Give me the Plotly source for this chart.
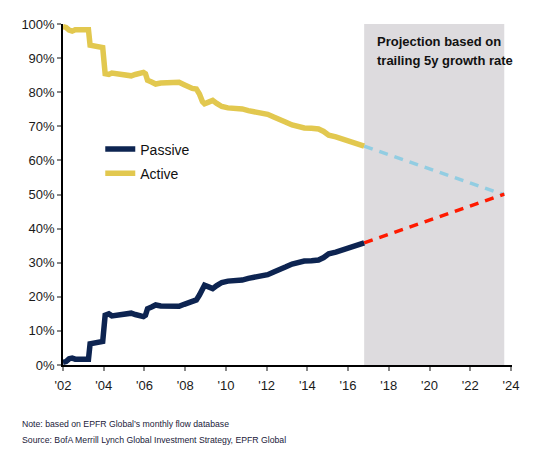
import plotly.graph_objects as go

years = [2002.00, 2002.15, 2002.30, 2002.45, 2002.60, 2002.80, 2003.00, 2003.25, 2003.33, 2003.50,
         2003.75, 2003.95, 2004.07, 2004.25, 2004.40, 2004.60, 2004.85, 2005.10, 2005.35, 2005.55,
         2005.75, 2005.95, 2006.05, 2006.15, 2006.35, 2006.55, 2006.80, 2007.10, 2007.40, 2007.70,
         2007.95, 2008.15, 2008.35, 2008.55, 2008.70, 2008.85, 2008.95, 2009.15, 2009.35, 2009.55,
         2009.80, 2010.10, 2010.40, 2010.80, 2011.10, 2011.45, 2011.80, 2012.05, 2012.35, 2012.65,
         2012.95, 2013.25, 2013.55, 2013.85, 2014.20, 2014.55, 2014.80, 2015.05, 2015.40, 2015.70,
         2016.00, 2016.30, 2016.55, 2016.79]

passive = [0.8, 1.0, 1.8, 2.0, 1.7, 1.6, 1.8, 1.7, 6.2, 6.4,
           6.6, 6.9, 14.6, 15.0, 14.4, 14.6, 14.9, 15.0, 15.2, 14.8,
           14.4, 14.2, 14.6, 16.5, 17.0, 17.6, 17.3, 17.3, 17.3, 17.2,
           17.8, 18.3, 18.9, 19.1, 20.5, 22.8, 23.4, 22.9, 22.4, 23.3,
           24.2, 24.6, 24.7, 24.9, 25.4, 25.8, 26.2, 26.5, 27.3, 27.9,
           28.8, 29.6, 30.1, 30.5, 30.6, 30.8, 31.5, 32.6, 33.1, 33.7,
           34.6, 35.1, 35.6, 35.8]

active = [99.2, 99.0, 98.2, 97.9, 98.3, 98.4, 98.3, 98.3, 93.8, 93.7,
          93.5, 93.1, 85.4, 85.2, 85.6, 85.4, 85.1, 85.0, 84.8, 85.2,
          85.6, 85.8, 85.4, 83.5, 83.0, 82.4, 82.7, 82.8, 82.7, 82.9,
          82.2, 81.6, 81.1, 80.9, 79.5, 77.2, 76.6, 77.1, 77.6, 76.7,
          75.8, 75.4, 75.3, 75.1, 74.6, 74.2, 73.8, 73.5, 72.7, 72.1,
          71.2, 70.4, 69.9, 69.5, 69.4, 69.2, 68.5, 67.4, 66.9, 66.3,
          65.4, 64.9, 64.4, 64.2]

proj_years = [2016.79, 2023.67]
passive_proj = [35.8, 50.1]
active_proj = [64.2, 49.9]

tick_years = [2002, 2004, 2006, 2008, 2010, 2012, 2014, 2016, 2018, 2020, 2022, 2024]
tick_labels = ["'02", "'04", "'06", "'08", "'10", "'12", "'14", "'16", "'18", "'20", "'22", "'24"]
y_ticks = [0, 10, 20, 30, 40, 50, 60, 70, 80, 90, 100]
y_labels = [f"{v}%" for v in y_ticks]

NAVY = "#0d2451"
GOLD = "#e2c84f"

fig = go.Figure()
fig.add_trace(go.Scatter(x=proj_years, y=active_proj, mode="lines", showlegend=False,
                         line=dict(color="#92cde2", width=3.5, dash="9px,7px")))
fig.add_trace(go.Scatter(x=proj_years, y=passive_proj, mode="lines", showlegend=False,
                         line=dict(color="#ff1a00", width=3.5, dash="9px,7px")))
fig.add_trace(go.Scatter(x=years, y=passive, mode="lines", name="Passive", legendgroup="p",
                         line=dict(color=NAVY, width=5.5)))
fig.add_trace(go.Scatter(x=years, y=active, mode="lines", name="Active", legendgroup="a",
                         line=dict(color=GOLD, width=5.5)))

fig.add_shape(type="rect", xref="x", yref="y", x0=proj_years[0], x1=proj_years[1], y0=0, y1=100,
              fillcolor="#dddbde", line=dict(width=0), layer="below")

fig.add_annotation(x=proj_years[0], y=1, xref="x", yref="paper", xshift=11, yshift=-8,
                   text="<b>Projection based on</b>", showarrow=False,
                   xanchor="left", yanchor="top", font=dict(size=13, color="#111"))
fig.add_annotation(x=proj_years[0], y=1, xref="x", yref="paper", xshift=11, yshift=-27,
                   text="<b>trailing 5y growth rate</b>", showarrow=False,
                   xanchor="left", yanchor="top", font=dict(size=13, color="#111"))

foot_font = dict(family="Liberation Sans, Arial, sans-serif", size=8.7, color="#1a1a3a")
fig.add_annotation(x=0, y=0, xref="paper", yref="paper", xanchor="left", yanchor="middle",
                   xshift=-43, yshift=-59, showarrow=False,
                   text="Note: based on EPFR Global\u2019s monthly flow database", font=foot_font)
fig.add_annotation(x=0, y=0, xref="paper", yref="paper", xanchor="left", yanchor="middle",
                   xshift=-43, yshift=-75, showarrow=False,
                   text="Source: BofA Merrill Lynch Global Investment Strategy, EPFR Global", font=foot_font)

fig.update_layout(
    width=528, height=445,
    margin=dict(l=55, r=24, t=16, b=88),
    plot_bgcolor="white", paper_bgcolor="white",
    font=dict(family="Liberation Sans, Arial, sans-serif", size=13, color="#1a1a1a"),
    showlegend=True,
    legend=dict(x=0.083, y=0.679, xanchor="left", yanchor="top", bgcolor="rgba(0,0,0,0)",
                font=dict(size=14, color="#111"), traceorder="grouped", tracegroupgap=3),
    xaxis=dict(range=[2002, 2024.05], tickvals=tick_years, ticktext=tick_labels, automargin=False,
               showgrid=False, zeroline=False, showline=True, linecolor="black", linewidth=1.5,
               ticks="outside", ticklen=4, tickcolor="#888", tickwidth=1.5, ticklabelstandoff=4),
    yaxis=dict(range=[0, 100], tickvals=y_ticks, ticktext=y_labels, automargin=False,
               showgrid=False, zeroline=False, showline=True, linecolor="black", linewidth=1.5,
               ticks="outside", ticklen=4, tickcolor="#888", tickwidth=1.5, ticklabelstandoff=0),
)

fig.write_html("out.html")
